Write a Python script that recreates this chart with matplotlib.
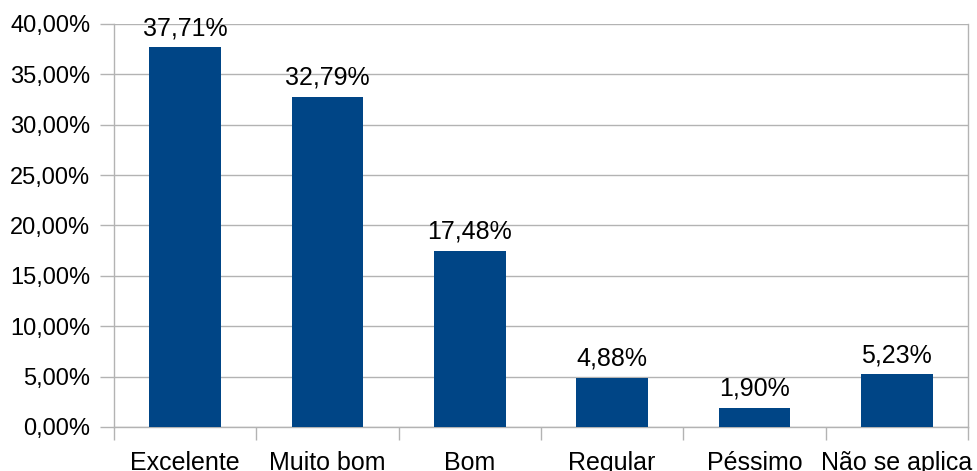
import matplotlib.pyplot as plt
from matplotlib.ticker import FuncFormatter, FixedLocator

# Dados do gráfico
categorias = ['Excelente', 'Muito bom', 'Bom', 'Regular', 'Péssimo', 'Não se aplica']
valores = [37.71, 32.79, 17.48, 4.88, 1.90, 5.23]

cor_barra = '#004586'
cor_grade = '#b3b3b3'

plt.rcParams['font.family'] = ['Liberation Sans', 'DejaVu Sans']

fig = plt.figure(figsize=(9.77, 4.71), dpi=100)
ax = fig.add_axes([114 / 977, 1 - 427 / 471, (968 - 114) / 977, (427 - 24) / 471])

x = list(range(len(categorias)))
ax.bar(x, valores, width=0.505, color=cor_barra, zorder=3)

for xi, v in zip(x, valores):
    ax.annotate(f'{v:.2f}%'.replace('.', ','), (xi, v), xytext=(0, 5),
                textcoords='offset points', ha='center', va='bottom', fontsize=18)

ax.set_xlim(-0.5, len(categorias) - 0.5)
ax.set_ylim(0, 40)
ax.set_yticks(range(0, 41, 5))
ax.yaxis.set_major_formatter(FuncFormatter(lambda v, p: f'{v:.2f}%'.replace('.', ',')))
ax.grid(axis='y', color=cor_grade, linewidth=1, zorder=0)

ax.set_xticks(x)
ax.set_xticklabels(categorias)
ax.xaxis.set_minor_locator(FixedLocator([i - 0.5 for i in range(len(categorias) + 1)]))
ax.tick_params(axis='x', which='major', length=0, pad=17, labelsize=18)
ax.tick_params(axis='x', which='minor', length=9, color=cor_grade, width=1)
ax.tick_params(axis='y', length=10, color=cor_grade, width=1, pad=7, labelsize=17)

for lado in ['left', 'right', 'bottom']:
    ax.spines[lado].set_color(cor_grade)
    ax.spines[lado].set_linewidth(1)
ax.spines['top'].set_visible(False)

fig.savefig('out.png', dpi=100)
